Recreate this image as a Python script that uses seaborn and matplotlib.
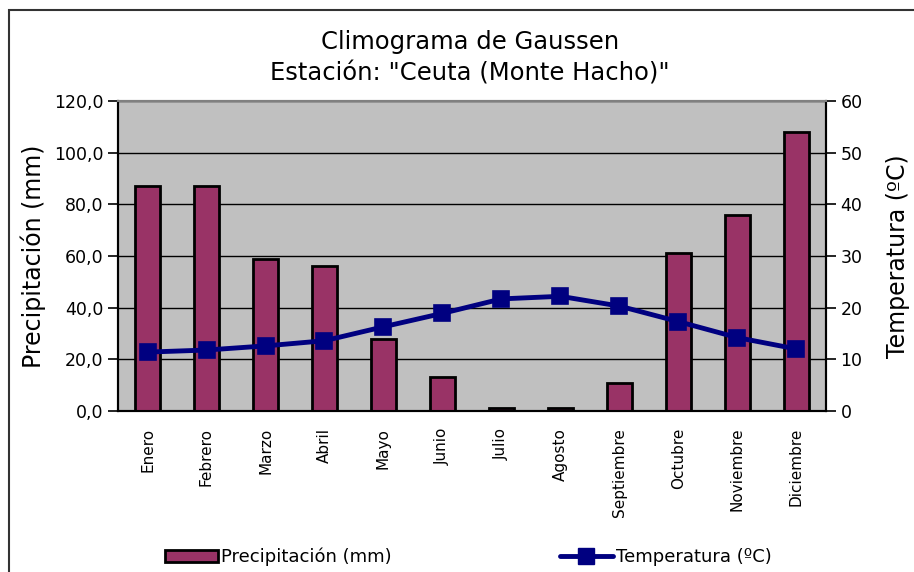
import matplotlib
matplotlib.use("Agg")
import matplotlib.pyplot as plt
import seaborn as sns
import pandas as pd
from matplotlib.ticker import FuncFormatter, MultipleLocator
from matplotlib.patches import Patch, Rectangle
from matplotlib.lines import Line2D

meses = ["Enero", "Febrero", "Marzo", "Abril", "Mayo", "Junio", "Julio",
         "Agosto", "Septiembre", "Octubre", "Noviembre", "Diciembre"]
precipitacion = [87, 87, 59, 56, 28, 13, 1, 1, 11, 61, 76, 108]
temperatura = [11.4, 11.8, 12.6, 13.6, 16.3, 18.9, 21.7, 22.2, 20.3, 17.3, 14.2, 12.0]

df = pd.DataFrame({"mes": meses, "prec": precipitacion, "temp": temperatura})

color_barra = "#993366"
color_linea = "#000080"

sns.set_style("white")
plt.rcParams["font.family"] = ["DejaVu Sans"]
plt.rcParams["text.color"] = "black"
plt.rcParams["axes.labelcolor"] = "black"
plt.rcParams["xtick.color"] = "black"
plt.rcParams["ytick.color"] = "black"

fig = plt.figure(figsize=(9.14, 5.72), dpi=100)
W, H = 914, 572
ax = fig.add_axes([118 / W, 1 - 411 / H, (826 - 118) / W, (411 - 101) / H])
ax.set_facecolor("#C0C0C0")

sns.barplot(data=df, x="mes", y="prec", color=color_barra, width=0.41,
            edgecolor="black", linewidth=2, saturation=1, ax=ax, zorder=3)
ax.set_ylim(0, 120)
ax.set_xlim(-0.5, 11.5)
ax.yaxis.set_major_locator(MultipleLocator(20))
ax.yaxis.set_major_formatter(FuncFormatter(lambda v, p: f"{v:.1f}".replace(".", ",")))
ax.grid(axis="y", color="black", linewidth=1, zorder=0)
ax.set_axisbelow(True)

ax2 = ax.twinx()
sns.pointplot(data=df, x="mes", y="temp", color=color_linea, markers="s",
              markersize=10, linewidth=3.5, ax=ax2)
ax2.set_ylim(0, 60)
ax2.set_xlim(-0.5, 11.5)
ax2.yaxis.set_major_locator(MultipleLocator(10))
ax2.grid(False)

# marcas del eje x entre categorias
ax.set_xticks(range(12))
ax.set_xticklabels(meses, rotation=90, fontsize=11)
ax.set_xticks([i - 0.5 for i in range(13)], minor=True)
ax.tick_params(axis="x", which="major", length=0, pad=12)
ax.tick_params(axis="x", which="minor", length=7, width=1.2, color="black", direction="out")
ax.tick_params(axis="y", length=7, width=1.2, color="black", direction="out", left=True, labelsize=12.5)
ax2.tick_params(axis="y", length=7, width=1.2, color="black", direction="out", right=True, labelsize=12.5)
ax.set_xlabel("")
ax2.set_xlabel("")

ax.set_ylabel("Precipitación (mm)", fontsize=17, labelpad=6)
ax2.set_ylabel("Temperatura (ºC)", fontsize=17, labelpad=17)

for a in (ax, ax2):
    for s in a.spines.values():
        s.set_visible(True)
        s.set_color("black")
        s.set_linewidth(1.5)
    a.spines["top"].set_color("#808080")

fig.text(470 / W, 1 - 42 / H, "Climograma de Gaussen", ha="center", va="center", fontsize=17.5)
fig.text(470 / W, 1 - 73 / H, "Estación: \"Ceuta (Monte Hacho)\"", ha="center", va="center", fontsize=17.5)

# marco exterior
fig.patches.append(Rectangle((9 / W, -0.05), 1.2, 1 - 10 / H + 0.05, transform=fig.transFigure,
                             fill=False, edgecolor="#333333", linewidth=1.5))

h1 = Patch(facecolor=color_barra, edgecolor="black", linewidth=2)
h2 = Line2D([0], [0], color=color_linea, linewidth=3.5, marker="s", markersize=11)
fig.legend([h1], ["Precipitación (mm)"], loc="center left", bbox_to_anchor=(149 / W, 1 - 557 / H),
           frameon=False, handlelength=2.9, handletextpad=0.2,
           prop={"family": ["Liberation Sans Narrow", "DejaVu Sans"], "size": 13})
fig.legend([h2], ["Temperatura (ºC)"], loc="center left", bbox_to_anchor=(544 / W, 1 - 557 / H),
           frameon=False, handlelength=2.9, handletextpad=0.2,
           prop={"family": ["Liberation Sans Narrow", "DejaVu Sans"], "size": 13})

fig.savefig("out.png", dpi=100)
